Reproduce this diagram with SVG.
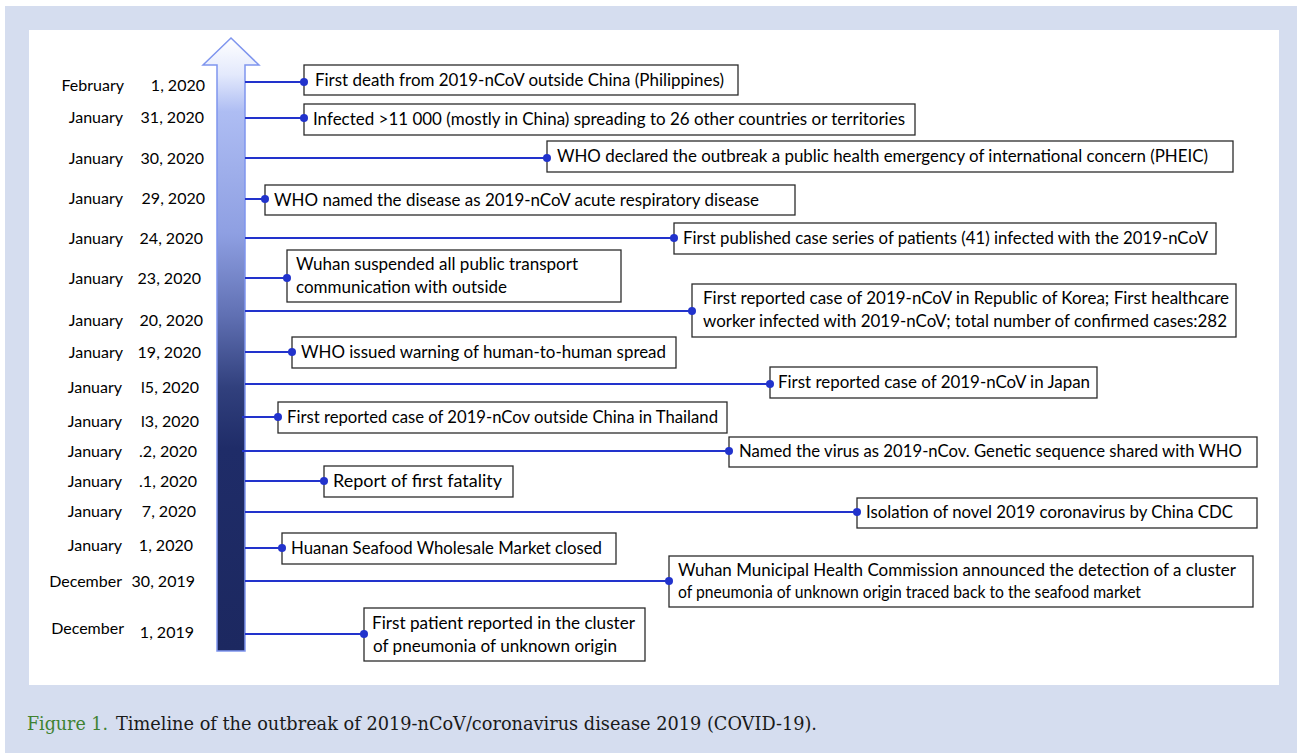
<svg xmlns="http://www.w3.org/2000/svg" width="1297" height="753" viewBox="0 0 1297 753">
<defs>
<linearGradient id="shaft" gradientUnits="userSpaceOnUse" x1="0" y1="38" x2="0" y2="651">
<stop offset="0" stop-color="#ffffff"/>
<stop offset="0.06" stop-color="#e3e9fc"/>
<stop offset="0.12" stop-color="#aebdf3"/>
<stop offset="0.32" stop-color="#8e9fe2"/>
<stop offset="0.45" stop-color="#6171b4"/>
<stop offset="0.57" stop-color="#31407d"/>
<stop offset="0.67" stop-color="#1f2c68"/>
<stop offset="1" stop-color="#1c2860"/>
</linearGradient>
<style>
.box{fill:#fff;stroke:#2b2b2b;stroke-width:1.3}
.t{font-family:Lato,"Open Sans","DejaVu Sans",sans-serif;font-size:17px;fill:#000}
.d{font-family:Lato,"Open Sans","DejaVu Sans",sans-serif;font-size:16px;fill:#000;text-anchor:end}
.c{stroke:#2233cc;stroke-width:2;fill:none}
.dot{fill:#2233cc}
.cap{font-family:"DejaVu Serif","Liberation Serif",serif;font-size:18.5px;fill:#1a1a1a}
</style>
</defs>
<rect x="0" y="0" width="1297" height="753" fill="#ffffff"/>
<rect x="5" y="6" width="1292" height="747" fill="#d5ddef"/>
<rect x="29" y="30" width="1250" height="655" fill="#ffffff"/>

<g id="arrow">
<path d="M231 38 L259 65 L245 65 L245 651 L217 651 L217 65 L203 65 Z" fill="url(#shaft)" stroke="#7f95ee" stroke-width="1.5"/>
</g>

<g id="dates">
<text class="d" x="124" y="91">February</text><text class="d" x="205" y="91">1, 2020</text>
<text class="d" x="123" y="123">January</text><text class="d" x="204" y="123">31, 2020</text>
<text class="d" x="123" y="164">January</text><text class="d" x="204" y="164">30, 2020</text>
<text class="d" x="123" y="204">January</text><text class="d" x="205" y="204">29, 2020</text>
<text class="d" x="123" y="244">January</text><text class="d" x="203" y="244">24, 2020</text>
<text class="d" x="123" y="284">January</text><text class="d" x="201" y="284">23, 2020</text>
<text class="d" x="123" y="326">January</text><text class="d" x="203" y="326">20, 2020</text>
<text class="d" x="123" y="358">January</text><text class="d" x="201" y="358">19, 2020</text>
<text class="d" x="122" y="393">January</text><text class="d" x="199" y="393">l5, 2020</text>
<text class="d" x="122" y="427">January</text><text class="d" x="199" y="427">l3, 2020</text>
<text class="d" x="122" y="457">January</text><text class="d" x="197" y="457">.2, 2020</text>
<text class="d" x="122" y="487">January</text><text class="d" x="197" y="487">.1, 2020</text>
<text class="d" x="122" y="517">January</text><text class="d" x="196" y="517">7, 2020</text>
<text class="d" x="122" y="551">January</text><text class="d" x="193" y="551">1, 2020</text>
<text class="d" x="122" y="587">December</text><text class="d" x="195" y="587">30, 2019</text>
<text class="d" x="124" y="634">December</text><text class="d" x="194" y="638">1, 2019</text>
</g>

<g id="e1"><rect class="box" x="304" y="65" width="434" height="30"/><text class="t" x="315" y="86" textLength="409" lengthAdjust="spacingAndGlyphs">First death from 2019-nCoV outside China (Philippines)</text></g>
<g id="e2"><rect class="box" x="304" y="104" width="611" height="31"/><text class="t" x="313" y="125" textLength="592" lengthAdjust="spacingAndGlyphs">Infected &gt;11 000 (mostly in China) spreading to 26 other countries or territories</text></g>
<g id="e3"><rect class="box" x="547" y="141" width="686" height="31"/><text class="t" x="557" y="162" textLength="651" lengthAdjust="spacingAndGlyphs">WHO declared the outbreak a public health emergency of international concern (PHEIC)</text></g>
<g id="e4"><rect class="box" x="265" y="185" width="530" height="30"/><text class="t" x="274" y="206" textLength="485" lengthAdjust="spacingAndGlyphs">WHO named  the disease as 2019-nCoV acute respiratory disease</text></g>
<g id="e5"><rect class="box" x="674" y="223" width="542" height="31"/><text class="t" x="683" y="244" textLength="525" lengthAdjust="spacingAndGlyphs">First published case series of patients (41) infected with the 2019-nCoV</text></g>
<g id="e6"><rect class="box" x="287" y="250" width="334" height="52"/><text class="t" x="296" y="270" textLength="282" lengthAdjust="spacingAndGlyphs">Wuhan suspended all public transport</text><text class="t" x="296" y="293" textLength="211" lengthAdjust="spacingAndGlyphs">communication with outside</text></g>
<g id="e7"><rect class="box" x="692" y="284" width="544" height="53"/><text class="t" x="703" y="304" textLength="526" lengthAdjust="spacingAndGlyphs">First  reported case of 2019-nCoV in Republic of Korea; First healthcare</text><text class="t" x="703" y="327" textLength="524" lengthAdjust="spacingAndGlyphs">worker infected with 2019-nCoV; total number of confirmed cases:282</text></g>
<g id="e8"><rect class="box" x="292" y="337" width="384" height="31"/><text class="t" x="301" y="358" textLength="365" lengthAdjust="spacingAndGlyphs">WHO issued warning of human-to-human spread</text></g>
<g id="e9"><rect class="box" x="770" y="367" width="327" height="31"/><text class="t" x="778" y="388" textLength="312" lengthAdjust="spacingAndGlyphs">First  reported case of 2019-nCoV in Japan</text></g>
<g id="e10"><rect class="box" x="278" y="402" width="449" height="31"/><text class="t" x="287" y="423" textLength="431" lengthAdjust="spacingAndGlyphs">First  reported case of 2019-nCov outside China in Thailand</text></g>
<g id="e11"><rect class="box" x="729" y="437" width="528" height="30"/><text class="t" x="739" y="457" textLength="503" lengthAdjust="spacingAndGlyphs">Named the virus as 2019-nCov. Genetic sequence shared with WHO</text></g>
<g id="e12"><rect class="box" x="324" y="466" width="189" height="31"/><text class="t" x="333" y="487" textLength="169" lengthAdjust="spacingAndGlyphs">Report of  first fatality</text></g>
<g id="e13"><rect class="box" x="857" y="498" width="400" height="30"/><text class="t" x="866" y="518" textLength="367" lengthAdjust="spacingAndGlyphs">Isolation  of novel 2019 coronavirus by China CDC</text></g>
<g id="e14"><rect class="box" x="282" y="533" width="334" height="31"/><text class="t" x="291" y="554" textLength="311" lengthAdjust="spacingAndGlyphs">Huanan Seafood Wholesale Market closed</text></g>
<g id="e15"><rect class="box" x="669" y="556" width="584" height="51"/><text class="t" x="678" y="576" textLength="558" lengthAdjust="spacingAndGlyphs">Wuhan Municipal Health Commission announced the detection of a cluster</text><text class="t" x="678" y="598" textLength="463" lengthAdjust="spacingAndGlyphs">of pneumonia of unknown origin traced back to the seafood market</text></g>
<g id="e16"><rect class="box" x="364" y="608" width="281" height="53"/><text class="t" x="372" y="629" textLength="263" lengthAdjust="spacingAndGlyphs">First  patient reported in the cluster</text><text class="t" x="373" y="652" textLength="244" lengthAdjust="spacingAndGlyphs">of pneumonia of unknown origin</text></g>

<g id="connectors">
<line class="c" x1="245" y1="82" x2="304" y2="82"/><circle class="dot" cx="304" cy="82" r="4"/>
<line class="c" x1="245" y1="118" x2="304" y2="118"/><circle class="dot" cx="304" cy="118" r="4"/>
<line class="c" x1="245" y1="158" x2="547" y2="158"/><circle class="dot" cx="547" cy="158" r="4"/>
<line class="c" x1="245" y1="199" x2="265" y2="199"/><circle class="dot" cx="265" cy="199" r="4"/>
<line class="c" x1="245" y1="238" x2="674" y2="238"/><circle class="dot" cx="674" cy="238" r="4"/>
<line class="c" x1="245" y1="278" x2="287" y2="278"/><circle class="dot" cx="287" cy="278" r="4"/>
<line class="c" x1="245" y1="311" x2="692" y2="311"/><circle class="dot" cx="692" cy="311" r="4"/>
<line class="c" x1="245" y1="352" x2="292" y2="352"/><circle class="dot" cx="292" cy="352" r="4"/>
<line class="c" x1="245" y1="384" x2="770" y2="384"/><circle class="dot" cx="770" cy="384" r="4"/>
<line class="c" x1="242" y1="417" x2="278" y2="417"/><circle class="dot" cx="278" cy="417" r="4"/>
<line class="c" x1="242" y1="451" x2="729" y2="451"/><circle class="dot" cx="729" cy="451" r="4"/>
<line class="c" x1="245" y1="481" x2="324" y2="481"/><circle class="dot" cx="324" cy="481" r="4"/>
<line class="c" x1="245" y1="512" x2="857" y2="512"/><circle class="dot" cx="857" cy="512" r="4"/>
<line class="c" x1="245" y1="548" x2="282" y2="548"/><circle class="dot" cx="282" cy="548" r="4"/>
<line class="c" x1="245" y1="581" x2="669" y2="581"/><circle class="dot" cx="669" cy="581" r="4"/>
<line class="c" x1="245" y1="634" x2="364" y2="634"/><circle class="dot" cx="364" cy="634" r="4"/>
</g>

<g id="caption">
<text class="cap" x="27" y="730" style="fill:#3f8232" textLength="81" lengthAdjust="spacingAndGlyphs">Figure 1.</text>
<text class="cap" x="116" y="730" textLength="701" lengthAdjust="spacingAndGlyphs">Timeline of the outbreak of 2019-nCoV/coronavirus disease 2019 (COVID-19).</text>
</g>
</svg>
